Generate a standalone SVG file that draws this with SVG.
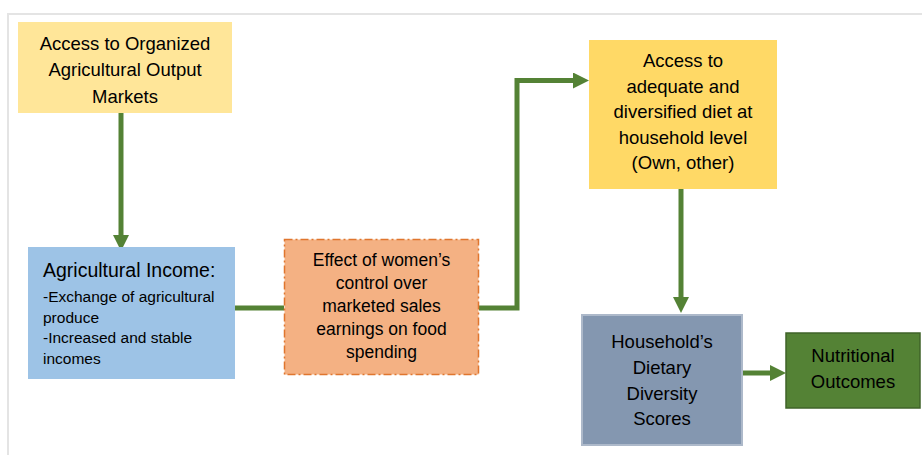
<svg xmlns="http://www.w3.org/2000/svg" width="922" height="455" viewBox="0 0 922 455">
<style>
text{font-family:"Liberation Sans",Arial,sans-serif;fill:#000;}
.c{text-anchor:middle;font-size:18.5px;}
.s{font-size:15.5px;}
.conn{fill:none;stroke:#548235;stroke-width:5;}
.head{fill:#548235;}
</style>
<defs>
<marker id="ah" viewBox="0 0 16 16" refX="0" refY="8" markerWidth="16" markerHeight="16" markerUnits="userSpaceOnUse" orient="auto">
<path class="head" d="M0,0 L16,8 L0,16 z"/>
</marker>
</defs>
<rect width="922" height="455" fill="#fff"/>
<path d="M8,455 L8,14 L922,14" fill="none" stroke="#E4E4E4" stroke-width="2"/>

<g id="connectors">
<path class="conn" d="M121,113 L121,235" marker-end="url(#ah)"/>
<path class="conn" d="M235,308 L284,308"/>
<path class="conn" d="M479,308 L517,308 L517,80.5 L573,80.5" marker-end="url(#ah)"/>
<path class="conn" d="M681,189 L681,297" marker-end="url(#ah)"/>
<path class="conn" d="M742,373 L770,373" marker-end="url(#ah)"/>
</g>

<g id="node-markets">
<rect x="18" y="22" width="214" height="91" fill="#FFE699"/>
<text class="c" x="125" y="50">Access to Organized</text>
<text class="c" x="125" y="76">Agricultural Output</text>
<text class="c" x="125" y="103">Markets</text>
</g>

<g id="node-income">
<rect x="28" y="247" width="207" height="132" fill="#9DC3E6"/>
<text x="43" y="277" font-size="19.5">Agricultural Income:</text>
<text class="s" x="43" y="302">-Exchange of agricultural</text>
<text class="s" x="43" y="323">produce</text>
<text class="s" x="43" y="343">-Increased and stable</text>
<text class="s" x="43" y="364">incomes</text>
</g>

<g id="node-women">
<rect x="284.5" y="239.5" width="194" height="135" fill="#F4B183" stroke="#E0762E" stroke-width="1.5" stroke-dasharray="8 3 2 3"/>
<text class="c" x="381.5" y="266" font-size="17.5" style="font-size:17.5px">Effect of women’s</text>
<text class="c" x="381.5" y="289" style="font-size:17.5px">control over</text>
<text class="c" x="381.5" y="312" style="font-size:17.5px">marketed sales</text>
<text class="c" x="381.5" y="335" style="font-size:17.5px">earnings on food</text>
<text class="c" x="381.5" y="358" style="font-size:17.5px">spending</text>
</g>

<g id="node-diet">
<rect x="589" y="40" width="188" height="149" fill="#FFD966"/>
<text class="c" x="683" y="67">Access to</text>
<text class="c" x="683" y="93">adequate and</text>
<text class="c" x="683" y="118">diversified diet at</text>
<text class="c" x="683" y="144">household level</text>
<text class="c" x="683" y="169">(Own, other)</text>
</g>

<g id="node-hdds">
<rect x="582" y="315" width="160" height="130" fill="#8497B0" stroke="#ADB9CA" stroke-width="2"/>
<text class="c" x="662" y="348">Household’s</text>
<text class="c" x="662" y="374">Dietary</text>
<text class="c" x="662" y="400">Diversity</text>
<text class="c" x="662" y="425">Scores</text>
</g>

<g id="node-nutrition">
<rect x="786" y="333" width="134" height="75" fill="#548235" stroke="#3F6328" stroke-width="1.5"/>
<text class="c" x="853" y="362">Nutritional</text>
<text class="c" x="853" y="388">Outcomes</text>
</g>
</svg>
